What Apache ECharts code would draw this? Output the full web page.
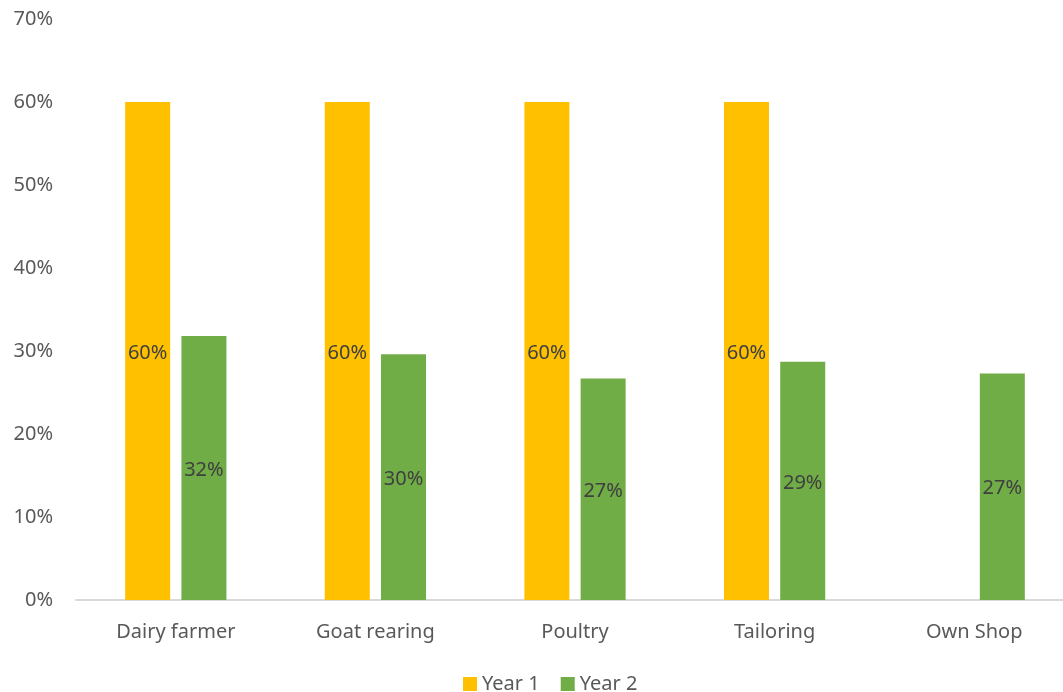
<!DOCTYPE html>
<html>
<head>
<meta charset="utf-8">
<script src="https://cdn.jsdelivr.net/npm/echarts@6/dist/echarts.min.js"></script>
<style>html,body{margin:0;padding:0;background:#fff;overflow:hidden;}#c{width:1085px;height:692px;}</style>
</head>
<body>
<div id="c"></div>
<script>
const categories = ['Dairy farmer', 'Goat rearing', 'Poultry', 'Tailoring', 'Own Shop'];
const year1 = [0.60, 0.60, 0.60, 0.60, null];
const year2 = [0.318, 0.296, 0.267, 0.287, 0.273];
const seriesNames = ['Year 1', 'Year 2'];
const FONT = '"Noto Sans", sans-serif';
const pct = v => Math.round(v * 100) + '%';
const chart = echarts.init(document.getElementById('c'), null, {renderer: 'canvas'});
const labelCfg = {show: true, position: 'inside', color: '#404040', fontSize: 20, fontFamily: FONT,
  offset: [0, 2], formatter: p => (p.value == null ? '' : pct(p.value))};
chart.setOption({
  animation: false,
  grid: {left: 76, top: 19, bottom: 92, width: 998, containLabel: false},
  legend: {data: seriesNames, left: 463, top: 674, padding: 0, itemWidth: 14, itemHeight: 14, itemGap: 21,
    icon: 'rect', textStyle: {color: '#595959', fontSize: 20, fontFamily: FONT}},
  xAxis: {type: 'category', data: categories,
    axisLine: {show: true, lineStyle: {color: '#d9d9d9', width: 2}},
    axisTick: {show: false},
    axisLabel: {color: '#595959', fontSize: 20, fontFamily: FONT, margin: 22}},
  yAxis: {type: 'value', min: 0, max: 0.7, interval: 0.1,
    axisLine: {show: false}, axisTick: {show: false}, splitLine: {show: false},
    axisLabel: {color: '#595959', fontSize: 20, fontFamily: FONT, margin: 23, formatter: v => pct(v)}},
  series: [
    {name: seriesNames[0], type: 'bar', data: year1, barWidth: 45, barGap: '25%',
      itemStyle: {color: '#FFC000'}, label: labelCfg},
    {name: seriesNames[1], type: 'bar', data: year2, barWidth: 45,
      itemStyle: {color: '#70AD47'}, label: labelCfg}
  ]
});
</script>
</body>
</html>
